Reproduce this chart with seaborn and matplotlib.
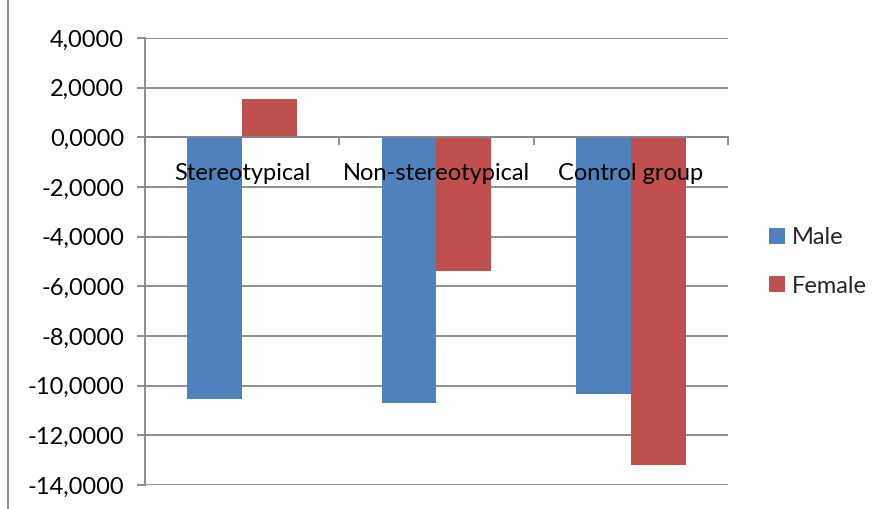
import matplotlib
matplotlib.use("Agg")
import matplotlib.pyplot as plt
from matplotlib.lines import Line2D
from matplotlib.ticker import FuncFormatter, FixedLocator
import seaborn as sns
import pandas as pd

categories = ["Stereotypical", "Non-stereotypical", "Control group"]
groups = ["Male", "Female"]
male_values = [-10.54, -10.70, -10.34]
female_values = [1.53, -5.37, -13.21]
y_ticks = [4, 2, 0, -2, -4, -6, -8, -10, -12, -14]

df = pd.DataFrame({
    "category": categories * 2,
    "group": [groups[0]] * 3 + [groups[1]] * 3,
    "value": male_values + female_values,
})

sns.set_theme(style="white")
plt.rcParams["font.family"] = ["Lato", "DejaVu Sans"]

GRID = "#868686"
FS = 17
fig = plt.figure(figsize=(8.85, 5.09), dpi=100)
ax = fig.add_axes([145 / 885, 1 - 485 / 509, (728 - 145) / 885, (485 - 38) / 509])

sns.barplot(
    data=df, x="category", y="value", hue="group", order=categories,
    hue_order=groups, palette=["#4F81BD", "#C0504D"], width=0.565, gap=0,
    linewidth=0, saturation=1, ax=ax, legend=True,
)

ax.set_xlim(-0.5, 2.5)
ax.set_ylim(-14, 4)
ax.set_yticks(y_ticks)
ax.yaxis.set_major_formatter(FuncFormatter(lambda v, p: f"{v:.4f}".replace(".", ",").replace("-0,0000", "0,0000")))
ax.yaxis.grid(True, color=GRID, linewidth=1.3)
ax.set_axisbelow(True)
ax.tick_params(axis="y", which="major", direction="out", length=6, width=1.3,
               color=GRID, labelsize=FS, labelcolor="black", pad=9, left=True)

# Category axis sits on the zero line, with boundary ticks hanging below it
ax.spines["bottom"].set_position(("data", 0))
ax.spines["bottom"].set_color(GRID)
ax.spines["bottom"].set_linewidth(1.3)
ax.spines["left"].set_color(GRID)
ax.spines["left"].set_linewidth(1.3)
ax.spines["top"].set_visible(False)
ax.spines["right"].set_visible(False)
ax.xaxis.set_major_locator(FixedLocator([-0.5, 0.5, 1.5, 2.5]))
ax.xaxis.set_minor_locator(FixedLocator([0, 1, 2]))
ax.set_xticklabels([], minor=False)
ax.set_xticklabels(categories, minor=True)
ax.tick_params(axis="x", which="major", direction="out", length=6, width=1.3,
               color=GRID, bottom=True)
ax.tick_params(axis="x", which="minor", length=0, labelsize=FS,
               labelcolor="black", pad=18.5, bottom=True)
ax.set_xlabel("")
ax.set_ylabel("")
# category names are printed over the bars
ax.xaxis.set_zorder(3)

handles, labels = ax.get_legend_handles_labels()
ax.legend(handles, labels, loc="center left",
          bbox_to_anchor=(769 / 885, 1 - 262 / 509), bbox_transform=fig.transFigure,
          frameon=False, fontsize=FS, handlelength=0.68, handleheight=0.68,
          handletextpad=0.3, labelspacing=1.15, borderpad=0, borderaxespad=0)

# Chart-area border on the left edge
fig.add_artist(Line2D([8 / 885, 8 / 885], [0, 1], transform=fig.transFigure,
                      color=GRID, linewidth=1.3))

fig.savefig("out.png", dpi=100)
